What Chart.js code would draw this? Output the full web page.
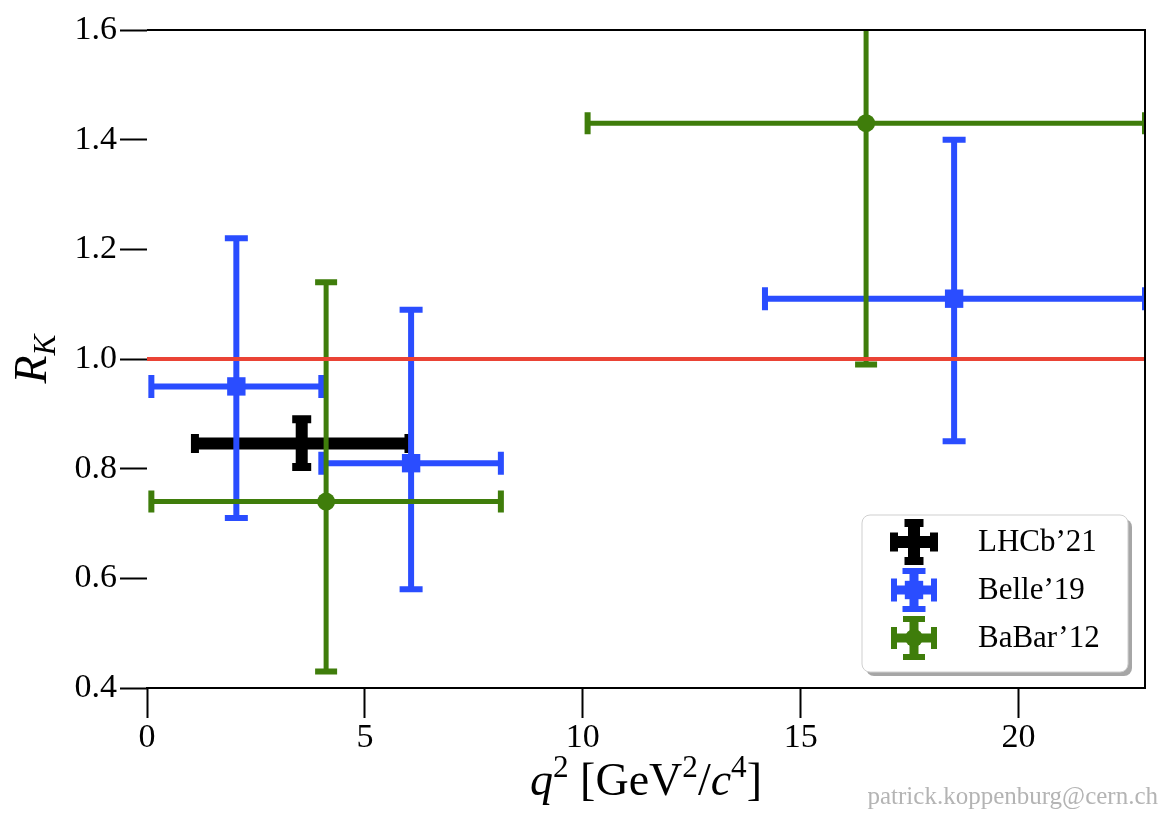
<!DOCTYPE html>
<html>
<head>
<meta charset="utf-8">
<script src="https://cdn.jsdelivr.net/npm/chart.js@4.4.0/dist/chart.umd.min.js"></script>
<style>
  html, body { margin: 0; padding: 0; background: #fff; }
</style>
</head>
<body>
<canvas id="grafico" width="1161" height="820"></canvas>
<script>
// ejes
const xMin = 0, xMax = 22.9, xStep = 5;
const yMin = 0.4, yMax = 1.6, yStep = 0.2;

// LHCb'21
const lhcbQ2 = [3.55];
const lhcbQ2Lo = [1.1];
const lhcbQ2Hi = [6.0];
const lhcbRK = [0.846];
const lhcbRKLo = [0.803];
const lhcbRKHi = [0.890];

// Belle'19
const belleQ2 = [2.05, 6.06, 18.52];
const belleQ2Lo = [0.1, 4.0, 14.18];
const belleQ2Hi = [4.0, 8.12, 22.9];
const belleRK = [0.95, 0.81, 1.11];
const belleRKLo = [0.71, 0.58, 0.85];
const belleRKHi = [1.22, 1.09, 1.40];

// BaBar'12
const babarQ2 = [4.11, 16.5];
const babarQ2Lo = [0.1, 10.11];
const babarQ2Hi = [8.12, 22.9];
const babarRK = [0.74, 1.43];
const babarRKLo = [0.43, 0.99];
const babarRKHi = [1.14, 2.08];

// prediccion SM
const smRK = [1.0];

const etiquetas = ['LHCb\u201921', 'Belle\u201919', 'BaBar\u201912'];

const FUENTE = '"Liberation Serif", "DejaVu Serif", serif';

function puntos(q2, rk, q2Lo, q2Hi, rkLo, rkHi) {
    return q2.map((x, i) => ({ x: x, y: rk[i], xLo: q2Lo[i], xHi: q2Hi[i], yLo: rkLo[i], yHi: rkHi[i] }));
}

function dibujarCruz(ctx, x0, x1, xc, y0, y1, yc, est) {
    ctx.strokeStyle = est.color;
    ctx.lineCap = 'butt';
    ctx.lineWidth = est.width;
    ctx.beginPath();
    ctx.moveTo(x0, yc); ctx.lineTo(x1, yc);
    ctx.moveTo(xc, y0); ctx.lineTo(xc, y1);
    ctx.stroke();
    const c = est.cap / 2;
    ctx.lineWidth = est.capWidth;
    ctx.beginPath();
    ctx.moveTo(x0, yc - c); ctx.lineTo(x0, yc + c);
    ctx.moveTo(x1, yc - c); ctx.lineTo(x1, yc + c);
    ctx.moveTo(xc - c, y0); ctx.lineTo(xc + c, y0);
    ctx.moveTo(xc - c, y1); ctx.lineTo(xc + c, y1);
    ctx.stroke();
}

const barrasError = {
    id: 'barrasError',
    beforeDatasetDraw(chart, args) {
        const ds = chart.data.datasets[args.index];
        if (!ds.errorBars) return;
        const ctx = chart.ctx, a = chart.chartArea;
        const sx = chart.scales.x, sy = chart.scales.y;
        ctx.save();
        ctx.beginPath();
        ctx.rect(a.left, a.top, a.right - a.left, a.bottom - a.top);
        ctx.clip();
        ds.data.forEach(p => {
            dibujarCruz(ctx,
                sx.getPixelForValue(p.xLo), sx.getPixelForValue(p.xHi), sx.getPixelForValue(p.x),
                sy.getPixelForValue(p.yLo), sy.getPixelForValue(p.yHi), sy.getPixelForValue(p.y),
                ds.errorBars);
        });
        ctx.restore();
    }
};

const marco = {
    id: 'marco',
    afterDatasetsDraw(chart) {
        const ctx = chart.ctx, a = chart.chartArea;
        ctx.save();
        ctx.strokeStyle = '#000';
        ctx.lineWidth = 2;
        ctx.beginPath();
        ctx.moveTo(a.left, a.top); ctx.lineTo(a.right, a.top); ctx.lineTo(a.right, a.bottom);
        ctx.stroke();
        ctx.restore();
    }
};

function medirPartes(ctx, partes, tam) {
    let ancho = 0;
    partes.forEach(p => {
        const t = (p.sup || p.sub) ? tam * 0.68 : tam;
        ctx.font = (p.it ? 'italic ' : '') + t + 'px ' + FUENTE;
        p._w = ctx.measureText(p.t).width;
        p._t = t;
        ancho += p._w;
    });
    return ancho;
}

function pintarPartes(ctx, partes, x, y, tam) {
    partes.forEach(p => {
        ctx.font = (p.it ? 'italic ' : '') + p._t + 'px ' + FUENTE;
        const dy = p.sup ? -tam * 0.4 : (p.sub ? tam * 0.2 : 0);
        ctx.fillText(p.t, x, y + dy);
        x += p._w;
    });
}

const textos = {
    id: 'textos',
    afterDraw(chart) {
        const ctx = chart.ctx, a = chart.chartArea;
        ctx.save();
        ctx.fillStyle = '#000';
        ctx.textBaseline = 'alphabetic';
        ctx.textAlign = 'left';

        // titulo eje x
        const tam = 46;
        const px = [
            { t: 'q', it: true }, { t: '2', sup: true }, { t: ' [GeV' }, { t: '2', sup: true },
            { t: '/' }, { t: 'c', it: true }, { t: '4', sup: true }, { t: ']' }
        ];
        const wx = medirPartes(ctx, px, tam);
        pintarPartes(ctx, px, (a.left + a.right) / 2 - wx / 2, 795, tam);

        // titulo eje y
        const py = [{ t: 'R', it: true }, { t: 'K', it: true, sub: true }];
        const wy = medirPartes(ctx, py, tam);
        ctx.save();
        ctx.translate(46, (a.top + a.bottom) / 2);
        ctx.rotate(-Math.PI / 2);
        pintarPartes(ctx, py, -wy / 2, 0, tam);
        ctx.restore();

        // marca de agua
        ctx.fillStyle = '#b4b4b4';
        ctx.font = '25px ' + FUENTE;
        ctx.textAlign = 'right';
        ctx.fillText('patrick.koppenburg@cern.ch', 1158, 804);

        // leyenda
        const lx = 862, ly = 515, lw = 266, lh = 157, r = 8;
        ctx.fillStyle = 'rgba(0,0,0,0.35)';
        ctx.beginPath(); ctx.roundRect(lx + 4, ly + 4, lw, lh, r); ctx.fill();
        ctx.fillStyle = '#fff';
        ctx.strokeStyle = '#cfcfcf';
        ctx.lineWidth = 1;
        ctx.beginPath(); ctx.roundRect(lx, ly, lw, lh, r); ctx.fill(); ctx.stroke();

        const series = chart.data.datasets.filter(d => d.errorBars);
        series.forEach((ds, i) => {
            const cx = 914, cy = 542 + i * 48;
            const est = Object.assign({}, ds.errorBars, { width: Math.max(ds.errorBars.width, 9) });
            dibujarCruz(ctx, cx - 20, cx + 20, cx, cy - 19, cy + 19, cy, est);
            if (ds.pointRadius > 0) {
                ctx.fillStyle = ds.pointBackgroundColor;
                Chart.helpers.drawPoint(ctx, { pointStyle: ds.pointStyle, radius: ds.pointRadius, rotation: 0, borderWidth: 0 }, cx, cy);
            }
            ctx.fillStyle = '#000';
            ctx.textAlign = 'left';
            ctx.textBaseline = 'middle';
            ctx.font = '31px ' + FUENTE;
            ctx.fillText(ds.label, 978, cy + 1);
        });
        ctx.restore();
    }
};

const ctx = document.getElementById('grafico').getContext('2d');
const chart = new Chart(ctx, {
    type: 'scatter',
    data: {
        datasets: [
            {
                label: etiquetas[0],
                data: puntos(lhcbQ2, lhcbRK, lhcbQ2Lo, lhcbQ2Hi, lhcbRKLo, lhcbRKHi),
                pointRadius: 0,
                pointBackgroundColor: '#000',
                errorBars: { color: '#000', width: 12, cap: 19, capWidth: 8 },
                order: 3
            },
            {
                label: etiquetas[1],
                data: puntos(belleQ2, belleRK, belleQ2Lo, belleQ2Hi, belleRKLo, belleRKHi),
                pointStyle: 'rect',
                pointRadius: 13,
                pointBorderWidth: 0,
                pointBackgroundColor: '#2a4dff',
                errorBars: { color: '#2a4dff', width: 6, cap: 23, capWidth: 6 },
                order: 2
            },
            {
                label: etiquetas[2],
                data: puntos(babarQ2, babarRK, babarQ2Lo, babarQ2Hi, babarRKLo, babarRKHi),
                pointStyle: 'circle',
                pointRadius: 9,
                pointBorderWidth: 0,
                pointBackgroundColor: '#3f7d0b',
                errorBars: { color: '#3f7d0b', width: 5, cap: 22, capWidth: 6 },
                order: 1
            },
            {
                type: 'line',
                label: 'SM',
                data: [{ x: xMin, y: smRK[0] }, { x: xMax, y: smRK[0] }],
                borderColor: '#ea4335',
                borderWidth: 4,
                pointRadius: 0,
                order: 0
            }
        ]
    },
    options: {
        responsive: false,
        animation: false,
        events: [],
        layout: { padding: { top: 30, right: 16, left: 0, bottom: 0 } },
        plugins: { legend: { display: false }, tooltip: { enabled: false } },
        scales: {
            x: {
                type: 'linear',
                min: xMin, max: xMax,
                afterFit: s => { s.height = 132; },
                border: { display: true, color: '#000', width: 2 },
                grid: { display: true, drawOnChartArea: false, drawTicks: true, tickLength: 30, tickWidth: 2, tickColor: '#000' },
                ticks: { stepSize: xStep, includeBounds: false, color: '#000', padding: 0, maxRotation: 0,
                         font: { family: FUENTE, size: 34 } }
            },
            y: {
                type: 'linear',
                min: yMin, max: yMax,
                afterFit: s => { s.width = 147; },
                border: { display: false },
                grid: { display: true, drawOnChartArea: false, drawTicks: true, tickLength: 27, tickWidth: 2, tickColor: '#000' },
                ticks: { stepSize: yStep, color: '#000', padding: 3,
                         font: { family: FUENTE, size: 34 },
                         callback: v => v.toFixed(1) }
            }
        }
    },
    plugins: [barrasError, marco, textos]
});
</script>
</body>
</html>
